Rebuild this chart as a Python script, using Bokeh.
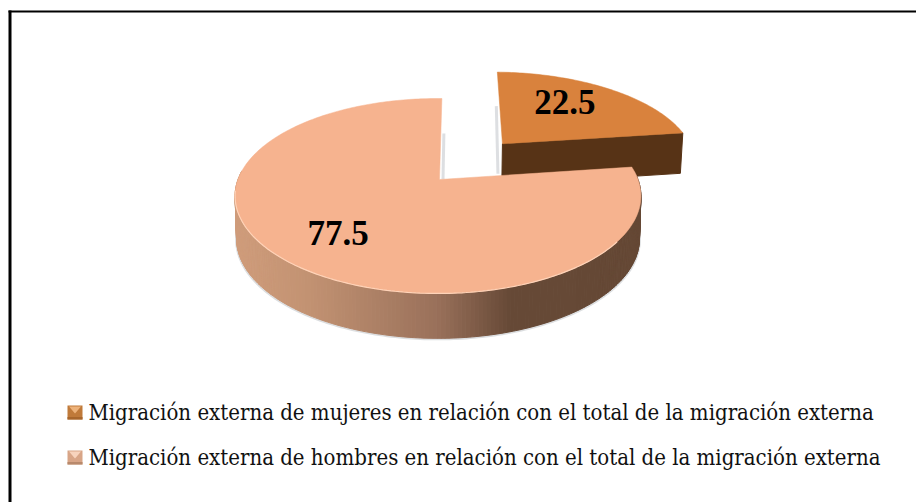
import math
from bokeh.plotting import figure
from bokeh.models import Range1d
from bokeh.core.properties import value
from bokeh.embed import file_html
from bokeh.resources import INLINE

# --- data ---
categories = ["Migración externa de mujeres en relación con el total de la migración externa",
              "Migración externa de hombres en relación con el total de la migración externa"]
shares = [22.5, 77.5]
share_labels = ["22.5", "77.5"]

# --- styling / layout ---
W, H = 916, 502
TOP_COLORS = ["#D9823D", "#F6B38F"]
SLICE_SIDE = "#573316"
LEGEND_FONT = value("DejaVu Serif Condensed")
LABEL_FONT = value("Liberation Serif")
CX, CY, A, B, K = 437.5, 179.0, 200.0, 94.7, 0.169
ROT = 1.3
EXPLODE = [0.53, 0.0]
LABEL_R = [0.656, 0.70]
LABEL_TURN = [-4.0, 0.0]
LABEL_LIFT = 1.5
APEX_DX = 1.5


def project(X, Y):
    w = 1 + K * Y
    return CX + A * X / w, CY - B * Y / w


def depth(Y):
    return 42.0 - 2.9 * Y


def rim(off, deg):
    t = math.radians(deg + ROT)
    return off[0] + math.sin(t), off[1] + math.cos(t)


def lerp_hex(c0, c1, f):
    a = [int(c0[i:i + 2], 16) for i in (1, 3, 5)]
    b = [int(c1[i:i + 2], 16) for i in (1, 3, 5)]
    return "#%02x%02x%02x" % tuple(round(u + (v - u) * f) for u, v in zip(a, b))


SIDE_STOPS = [(0.0, "#CF9C7B"), (0.18, "#C29272"), (0.5, "#99705A"), (0.68, "#664936"), (1.0, "#654835")]


def side_color(t):
    for (t0, c0), (t1, c1) in zip(SIDE_STOPS, SIDE_STOPS[1:]):
        if t <= t1:
            return lerp_hex(c0, c1, (t - t0) / (t1 - t0))
    return SIDE_STOPS[-1][1]


starts, ends, acc = [], [], 0.0
for v in shares:
    starts.append(acc)
    acc += 360.0 * v / sum(shares)
    ends.append(acc)

p = figure(width=W, height=H, output_backend="svg", toolbar_location=None,
           x_range=Range1d(0, W), y_range=Range1d(H, 0),
           min_border=0, outline_line_color=None, background_fill_color="white",
           border_fill_color="white")
p.axis.visible = False
p.grid.visible = False

# frame
p.line([9.5, 9.5], [10, H], line_color="black", line_width=3)
p.line([8, W], [11, 11], line_color="black", line_width=2)

offsets = []
for i in range(2):
    mid = math.radians((starts[i] + ends[i]) / 2)
    offsets.append((EXPLODE[i] * math.sin(mid), EXPLODE[i] * math.cos(mid)))


def arc_pts(off, a0, a1, step=1.0):
    n = max(2, int(abs(a1 - a0) / step) + 1)
    return [rim(off, a0 + (a1 - a0) * j / (n - 1)) for j in range(n)]


off0, off1 = offsets
SHADOW = "#C6CACE"
ax, ay = project(*off0)
tx, ty = project(*rim(off0, starts[0]))
p.line([tx - 1.0, ax - 4.5], [ty + 34, ay + 30], line_color=SHADOW, line_width=3, line_alpha=0.6)
ax1, ay1 = project(*off1)
tx1, ty1 = project(*rim(off1, ends[1]))
p.line([tx1 + 2, ax1 + 5], [ty1 + 35, ay1], line_color=SHADOW, line_width=3, line_alpha=0.6)

# soft shadow under the front of the side wall
sh = arc_pts(off1, 84, 272)
sh_x, sh_y = [], []
for X, Y in sh:
    x, y = project(X, Y)
    sh_x.append(CX + (x - CX) * 0.995)
    sh_y.append(y + depth(Y) + 1.0)
p.line(sh_x, sh_y, line_color="#C4C8CC", line_width=2, line_alpha=0.6)

# exploded slice: visible side wall, then top
e0 = project(*off0)
Xe, Ye = rim(off0, ends[0])
e1 = project(Xe, Ye)
p.patch([e0[0], e1[0], CX + (e1[0] - CX) * 0.99, CX + (e0[0] - CX) * 0.99],
        [e0[1], e1[1], e1[1] + depth(Ye), e0[1] + depth(off0[1])],
        fill_color=SLICE_SIDE, line_color=SLICE_SIDE, line_width=1)
pts = [project(*off0)] + [project(*q) for q in arc_pts(off0, starts[0], ends[0])]
p.patch([q[0] for q in pts], [q[1] for q in pts], fill_color=TOP_COLORS[0],
        line_color=TOP_COLORS[0], line_width=0.5)

# main slice: graded side wall, then top
edge = arc_pts(off1, 84, 274, step=1.0)
xs_side, ys_side, cols = [], [], []
for (X0, Y0), (X1, Y1) in zip(edge, edge[1:]):
    a0, a1 = project(X0, Y0), project(X1, Y1)
    xs_side.append([a0[0], a1[0], CX + (a1[0] - CX) * 0.993, CX + (a0[0] - CX) * 0.993])
    ys_side.append([a0[1], a1[1], a1[1] + depth(Y1), a0[1] + depth(Y0)])
    cols.append(side_color(((a0[0] + a1[0]) / 2 - 235.0) / 404.0))
p.patches(xs_side, ys_side, fill_color=cols, line_color=cols, line_width=1)

apex = project(*off1)
pts = [(apex[0] + APEX_DX, apex[1])] + [project(*q) for q in arc_pts(off1, starts[1], ends[1])]
p.patch([q[0] for q in pts], [q[1] for q in pts], fill_color=TOP_COLORS[1],
        line_color=TOP_COLORS[1], line_width=0.5)

# light bevel along the front of the top
bev = [project(*q) for q in arc_pts(off1, 125, 262)]
p.line([q[0] for q in bev], [q[1] for q in bev], line_color="#FFD3B8", line_width=1.2)

# data labels
for i, lab in enumerate(share_labels):
    mid = math.radians((starts[i] + ends[i]) / 2 + LABEL_TURN[i])
    lx, ly = project(offsets[i][0] + LABEL_R[i] * math.sin(mid), offsets[i][1] + LABEL_R[i] * math.cos(mid))
    p.text([lx], [ly - LABEL_LIFT], text=[lab], text_font=LABEL_FONT, text_font_style="bold", text_font_size="35px",
           text_color="black", text_align="center", text_baseline="middle")

# legend
LEG_FACE = [("#A8662C", "#C07A3A", "#EDB27A"), ("#B8896C", "#D8A587", "#F7D3BD")]
for i, cat in enumerate(categories):
    y0 = 405 + 45 * i
    dark, mid_c, light = LEG_FACE[i]
    p.quad(left=[67], right=[82], top=[y0], bottom=[y0 + 14], fill_color=mid_c, line_color=None)
    p.quad(left=[67], right=[82], top=[y0 + 11.5], bottom=[y0 + 14], fill_color=dark, line_color=None)
    p.patch([68.5, 80.5, 74.5], [y0 + 1, y0 + 1, y0 + 8], fill_color=light, line_color=None)
    p.text([88], [y0 + 7], text=[cat], text_font=LEGEND_FONT, text_font_size="22px",
           text_color="#111111", text_align="left", text_baseline="alphabetic")

open("out.html", "w").write(file_html(p, INLINE))
